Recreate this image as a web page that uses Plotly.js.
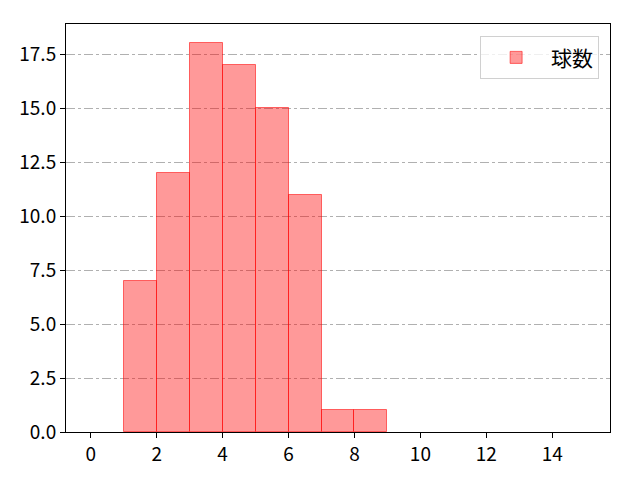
<!DOCTYPE html>
<html>
<head>
    <meta charset="UTF-8">
    <title>球数</title>
    <script src="https://cdn.plot.ly/plotly-3.0.1.min.js"></script>
    <style>
        body { margin: 0; background: white; }
        #chart { width: 640px; height: 480px; }
    </style>
</head>
<body>
    <div id="chart"></div>
    <script>
        // histogram bins (left edge) and counts
        var binStarts = [1, 2, 3, 4, 5, 6, 7, 8];
        var counts = [7, 12, 18, 17, 15, 11, 1, 1];
        var seriesName = '球数';
        var xTicks = [0, 2, 4, 6, 8, 10, 12, 14];
        var yTicks = [0, 2.5, 5, 7.5, 10, 12.5, 15, 17.5];

        var trace = {
            x: binStarts.map(b => b + 0.5),
            y: counts,
            width: binStarts.map(() => 1),
            type: 'bar',
            name: seriesName,
            showlegend: true,
            marker: {
                color: 'rgba(255,0,0,0.4)',
                line: { color: 'rgba(255,0,0,0.55)', width: 1 }
            }
        };

        var layout = {
            width: 640,
            height: 480,
            margin: { l: 66, r: 30, t: 24, b: 48 },
            paper_bgcolor: 'white',
            plot_bgcolor: 'white',
            font: { family: '"Noto Sans CJK JP", "DejaVu Sans", sans-serif', size: 18, color: '#000' },
            bargap: 0,
            xaxis: {
                range: [-0.75, 15.75],
                tickvals: xTicks,
                ticks: 'outside', ticklen: 5, tickcolor: '#000',
                tickfont: { size: 19 },
                showgrid: false, zeroline: false,
                showline: true, linecolor: '#000', mirror: true
            },
            yaxis: {
                range: [0, 18.9],
                tickvals: yTicks,
                ticktext: yTicks.map(v => v.toFixed(1)),
                ticks: 'outside', ticklen: 5, tickcolor: '#000',
                tickfont: { size: 19 },
                showgrid: true, gridcolor: '#b0b0b0', griddash: 'dashdot', gridwidth: 1,
                zeroline: false,
                showline: true, linecolor: '#000', mirror: true
            },
            legend: {
                x: 0.98, y: 0.97, xanchor: 'right', yanchor: 'top',
                bordercolor: '#d0d0d0', borderwidth: 1, bgcolor: 'rgba(255,255,255,0.8)',
                font: { size: 21 },
                itemwidth: 60
            },
            showlegend: true
        };

        Plotly.newPlot('chart', [trace], layout, { displayModeBar: false });
    </script>
</body>
</html>
